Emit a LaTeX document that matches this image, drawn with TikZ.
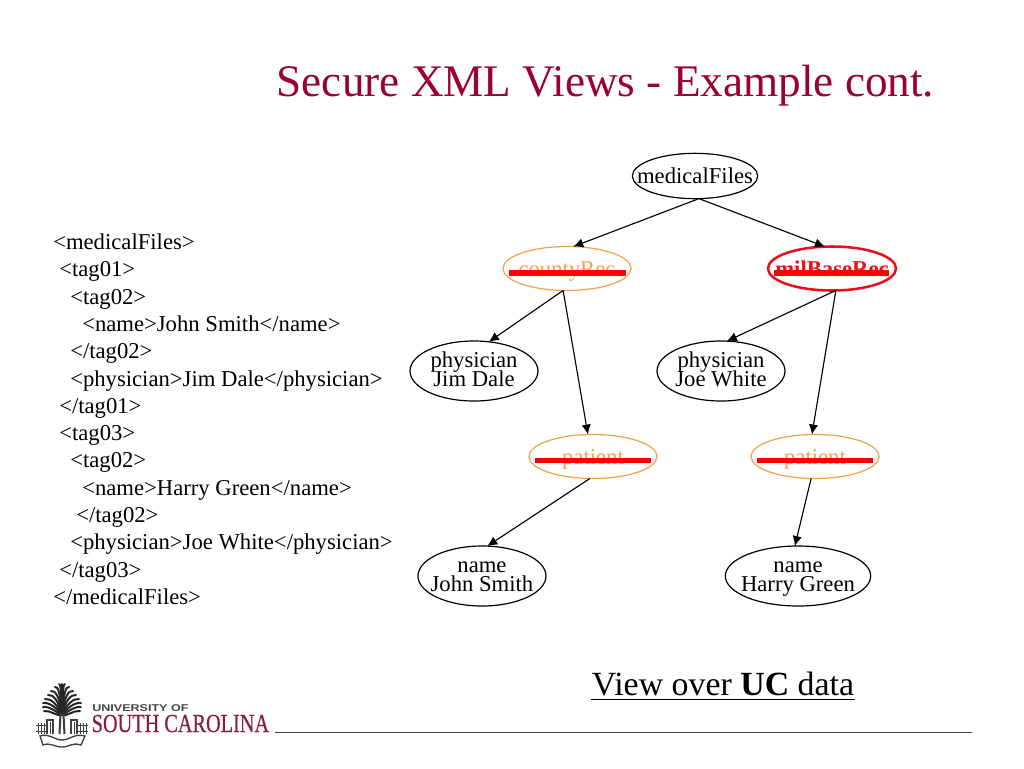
\documentclass[tikz,border=0pt]{standalone}
\usepackage{fontspec}
\setmainfont{Liberation Serif}
\newfontfamily\logosans{Liberation Sans}
\newfontfamily\logoserif[FakeBold=0.5]{Liberation Serif}
\usetikzlibrary{shapes.geometric,arrows.meta}
\definecolor{garnet}{HTML}{990033}
\definecolor{logored}{HTML}{8C1C3A}
\definecolor{hlorange}{HTML}{F2A04A}
\definecolor{strike}{HTML}{FF0000}
\definecolor{milred}{HTML}{E8101C}
\newcommand{\etext}[1]{\makebox[0pt][c]{\raisebox{-5.9pt}[0pt][0pt]{#1}}}
\newcommand{\etextii}[2]{\makebox[0pt][c]{\raisebox{2.8pt}[0pt][0pt]{#1}}\makebox[0pt][c]{\raisebox{-11.4pt}[0pt][0pt]{#2}}}
\tikzset{
  x=0.75pt,y=-0.75pt,
  elbase/.style={ellipse,inner sep=0pt,outer sep=0pt,draw=black,line width=0.9pt,font=\fontsize{17}{20}\selectfont},
  black28/.style={elbase,minimum width=96pt,minimum height=45pt},
  orangeel/.style={elbase,draw=hlorange,text=hlorange,minimum width=96pt,minimum height=33pt},
  redel/.style={elbase,draw=milred,text=milred,line width=1.9pt,minimum width=96pt,minimum height=33pt,font=\fontsize{17}{20}\selectfont\bfseries},
  edge/.style={draw=black,line width=0.85pt,-{Latex[length=7.5pt,width=7pt]}},
  strikeline/.style={draw=strike,line width=4.4pt},
  xmlline/.style={anchor=base west,inner sep=0pt,font=\fontsize{17}{20}\selectfont},
  frond/.style={draw=black!85,line width=1.5pt,line cap=round},
  logoline/.style={draw=black!75,line width=0.55pt}
}
\begin{document}
\begin{tikzpicture}
\useasboundingbox (0,0) rectangle (1024,768);
\fill[white] (0,0) rectangle (1024,768);

\node[anchor=base,inner sep=0pt,text=garnet,font=\fontsize{33.9}{40}\selectfont] (title) at (605.5,96) {Secure XML Views - Example cont.};

% XML listing
\node[xmlline] (x1) at (53,249.5) {<medicalFiles>};
\node[xmlline] (x2) at (59,276.8) {<tag01>};
\node[xmlline] (x3) at (70,304.1) {<tag02>};
\node[xmlline] (x4) at (82,331.4) {<name>John Smith</name>};
\node[xmlline] (x5) at (70,358.7) {</tag02>};
\node[xmlline] (x6) at (70,386) {<physician>Jim Dale</physician>};
\node[xmlline] (x7) at (59,413.3) {</tag01>};
\node[xmlline] (x8) at (59,440.6) {<tag03>};
\node[xmlline] (x9) at (70,467.9) {<tag02>};
\node[xmlline] (x10) at (82,495.2) {<name>Harry Green</name>};
\node[xmlline] (x11) at (76,522.5) {</tag02>};
\node[xmlline] (x12) at (70,549.8) {<physician>Joe White</physician>};
\node[xmlline] (x13) at (59,577.1) {</tag03>};
\node[xmlline] (x14) at (53,604.5) {</medicalFiles>};

% tree
\node[elbase,minimum width=94pt,minimum height=34pt] (med) at (695,176) {\etext{medicalFiles}};
\node[orangeel] (county) at (567,268.5) {\etext{countyRec}};
\node[redel] (mil) at (832,268.5) {\etext{milBaseRec}};
\node[black28] (jim) at (474,371) {\etextii{physician}{Jim Dale}};
\node[black28] (joe) at (721,371) {\etextii{physician}{Joe White}};
\node[orangeel] (patl) at (593,456.5) {\etext{patient}};
\node[orangeel] (patr) at (815,456.5) {\etext{patient}};
\node[black28] (john) at (482,576) {\etextii{name}{John Smith}};
\node[black28,minimum width=109pt] (harry) at (798,576) {\etextii{name}{Harry Green}};

\draw[edge] (med.-80) -- (county.74);
\draw[edge] (med.-80) -- (mil.108);
\draw[edge] (county.-100) -- (jim.63);
\draw[edge] (county.-100) -- (patl.103);
\draw[edge] (mil.-80) -- (joe.79);
\draw[edge] (mil.-80) -- (patr.98);
\draw[edge] (patl.-98) -- (john.80);
\draw[edge] (patr.-100) -- (harry.96);

% strike-outs
\coordinate (sa1) at (509,273); \coordinate (sa2) at (626,273);
\coordinate (sb1) at (774,273); \coordinate (sb2) at (889,273);
\coordinate (sc1) at (535,460.5); \coordinate (sc2) at (651,460.5);
\coordinate (sd1) at (757,460.5); \coordinate (sd2) at (873,460.5);
\draw[strikeline] (sa1) -- (sa2);
\draw[strikeline] (sb1) -- (sb2);
\draw[strikeline] (sc1) -- (sc2);
\draw[strikeline] (sd1) -- (sd2);

% caption
\node[anchor=base,inner sep=0pt,font=\fontsize{25.4}{30}\selectfont] (cap) at (723,695) {View over \textbf{UC} data};
\coordinate (u1) at (591,699.5); \coordinate (u2) at (855,699.5);
\draw[draw=black,line width=0.9pt] (u1) -- (u2);

% footer rule
\coordinate (r1) at (275,732); \coordinate (r2) at (972,732);
\draw[draw=black!75,line width=0.7pt] (r1) -- (r2);

% logo text
\node[anchor=base west,inner sep=0pt,text=black!72,font=\logosans\bfseries\fontsize{7.4}{9}\selectfont,xscale=1.27] (lu) at (92,711) {UNIVERSITY OF};
\node[anchor=base west,inner sep=0pt,text=logored,font=\logoserif\fontsize{19.5}{22}\selectfont,xscale=0.78] (ls) at (91.5,732) {SOUTH CAROLINA};

% palmetto emblem
\foreach \s in {-1,1}{
  \foreach \a/\b/\c in {
    2/3/684, 5/7/687, 8/11/691, 11/14/695, 14/17/699, 15/19/703, 15/19/707, 14/18/711}{
    \draw[frond] (62,715) .. controls ({62+\s*\a*0.3},{\c+6}) and ({62+\s*\a*0.8},{\c-1}) .. ({62+\s*\b},\c);
  }
}
\draw[frond] (62,715) -- (62,684);
\foreach \s in {-1,1}{
  \draw[logoline,line width=1.5pt] ({62+\s*1.5},714) -- ({62+\s*2.5},734);
  \draw[logoline,line width=0.9pt] ({62+\s*9},734) -- ({62+\s*9},720) -- ({62+\s*15},720) -- ({62+\s*15},734);
  \draw[logoline] ({62+\s*12},722) -- ({62+\s*12},734);
  \foreach \k in {18,21,24}{\draw[logoline] ({62+\s*\k},723) -- ({62+\s*\k},734);}
  \draw[logoline] ({62+\s*16},725) -- ({62+\s*26},725);
  \draw[logoline] ({62+\s*16},731) -- ({62+\s*26},731);
}
\draw[logoline,line width=1pt] (40,736) .. controls (50,733) and (54,740) .. (62,740) .. controls (70,740) and (74,733) .. (85,736) -- (81,745) .. controls (72,742) and (70,747) .. (62,747) .. controls (54,747) and (50,742) .. (43,745) -- cycle;
\end{tikzpicture}
\end{document}
